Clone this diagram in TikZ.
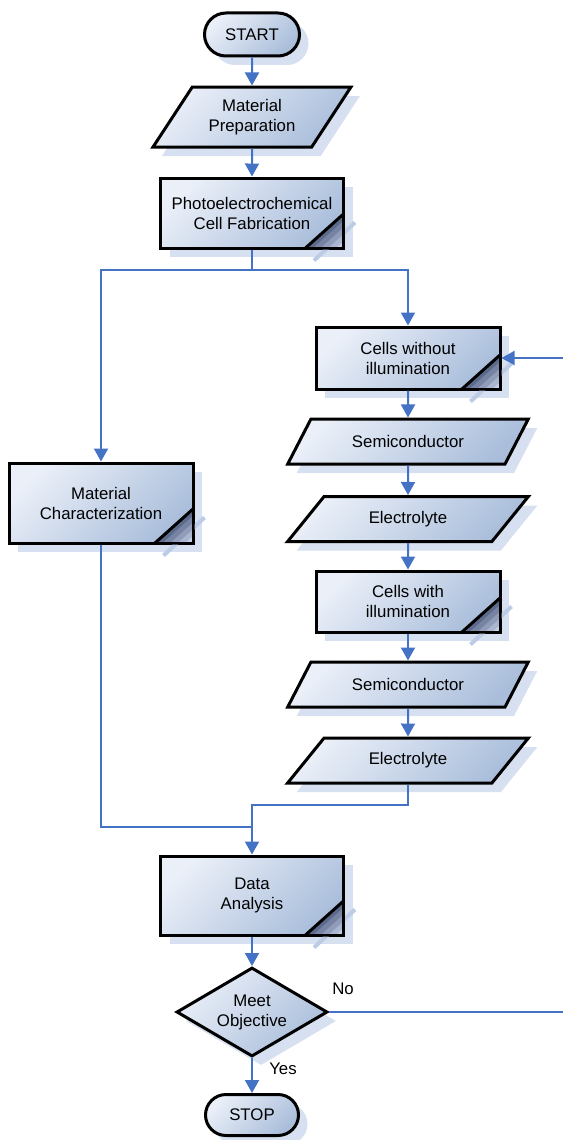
\documentclass[tikz,border=0pt]{standalone}
\usepackage{fontspec}
\setmainfont{Liberation Sans}
\usetikzlibrary{shapes.geometric,shapes.misc,shadows,arrows.meta,calc}
\definecolor{gl}{RGB}{234,239,248}
\definecolor{gd}{RGB}{170,190,219}
\definecolor{shc}{RGB}{214,224,240}
\definecolor{conc}{RGB}{68,114,196}
\definecolor{foldd}{RGB}{92,106,140}
\definecolor{foldl}{RGB}{196,206,230}
\definecolor{stripec}{RGB}{188,203,230}
\tikzset{
  base/.style={draw=black, line width=3pt, top color=gl, bottom color=gd, shading angle=45,
    align=center, text=black, font=\fontsize{16.8}{20}\selectfont,
    drop shadow={fill=shc, opacity=1, shadow xshift=9pt, shadow yshift=-9pt}},
  term/.style={base, rounded rectangle, inner sep=0pt},
  proc/.style={base, rectangle, inner sep=0pt,
    path picture={
      \foreach \f/\c in {1/0,0.8/25,0.6/50,0.4/75,0.2/100}{
        \fill[foldl!\c!foldd] ([xshift=-38*\f pt]path picture bounding box.south east) -- ([yshift=34*\f pt]path picture bounding box.south east) -- (path picture bounding box.south east) -- cycle;}
      \draw[line width=3pt] ([xshift=-38pt]path picture bounding box.south east) -- ([yshift=34pt]path picture bounding box.south east);
    }},
  para/.style={base, trapezium, trapezium stretches=true, inner sep=0pt},
  paraB/.style={para, minimum width=241pt, minimum height=45pt, trapezium left angle=42.6, trapezium right angle=137.4},
  dec/.style={base, diamond, aspect=1.7, minimum width=151pt, minimum height=89pt, inner sep=0pt},
  lbl/.style={font=\fontsize{16.8}{20}\selectfont, text=black, inner sep=0pt},
  conn/.style={draw=conc, line width=2pt},
  arr/.style={conn, -{Triangle[width=14pt,length=13pt]}},
  stripe/.style={draw=stripec, line width=4pt}
}
\newcommand\foldstripe[1]{%
  \begin{scope}
    \clip (0,0) rectangle (563,1140) (#1.south west) rectangle (#1.north east);
    \draw[stripe] ([xshift=-31pt,yshift=-11pt]#1.south east) -- ([xshift=10pt,yshift=27pt]#1.south east);
  \end{scope}}
\begin{document}
\begin{tikzpicture}[x=1pt,y=-1pt]
\useasboundingbox (0,0) rectangle (563,1140);
\node[term, minimum width=95pt, minimum height=43pt] (start) at (252,34.5) {START};
\node[para, minimum width=198pt, minimum height=60pt, trapezium left angle=51.3, trapezium right angle=128.7] (prep) at (252,117) {Material\\Preparation};
\node[proc, minimum width=183pt, minimum height=70pt] (fab) at (252,213) {Photoelectrochemical\\Cell Fabrication};
\coordinate (split) at (252,270);
\node[proc, minimum width=184pt, minimum height=62pt] (cwo) at (408,358) {Cells without\\illumination};
\node[paraB] (semi1) at (408,441.5) {Semiconductor};
\node[paraB] (elec1) at (408,519) {Electrolyte};
\node[proc, minimum width=184pt, minimum height=61pt] (cwi) at (408,601.5) {Cells with\\illumination};
\node[paraB] (semi2) at (408,684.5) {Semiconductor};
\node[paraB] (elec2) at (408,760.5) {Electrolyte};
\node[proc, minimum width=184pt, minimum height=80pt] (char) at (101,503) {Material\\Characterization};
\coordinate (m1) at (252,805);
\coordinate (m2) at (252,827);
\node[proc, minimum width=183pt, minimum height=79pt] (data) at (252,895.5) {Data\\Analysis};
\node[dec] (dec) at (252,1012) {Meet\\Objective};
\node[term, minimum width=93pt, minimum height=41pt] (stop) at (252,1115) {STOP};
\coordinate (noend) at (563,1012);
\coordinate (loopin) at (563,358);
\node[lbl] (no) at (343,989) {No};
\node[lbl] (yes) at (283,1069) {Yes};
% shadow stripes of the folded corners
\foldstripe{fab}
\foldstripe{cwo}
\foldstripe{cwi}
\foldstripe{char}
\foldstripe{data}
% connectors
\draw[arr] (start) -- (prep);
\draw[arr] (prep) -- (fab);
\draw[conn] (fab.south) -- (split);
\draw[arr] (split) -| (char.north);
\draw[arr] (split) -| (cwo.north);
\draw[arr] (cwo) -- (semi1);
\draw[arr] (semi1) -- (elec1);
\draw[arr] (elec1) -- (cwi);
\draw[arr] (cwi) -- (semi2);
\draw[arr] (semi2) -- (elec2);
\draw[conn] (char.south) |- (m2);
\draw[arr] (elec2.south) |- (m1) -- (data.north);
\draw[arr] (data) -- (dec);
\draw[arr] (dec) -- (stop);
\draw[conn] (dec.east) -- (noend);
\draw[arr] (loopin) -- (cwo.east);
\end{tikzpicture}
\end{document}
